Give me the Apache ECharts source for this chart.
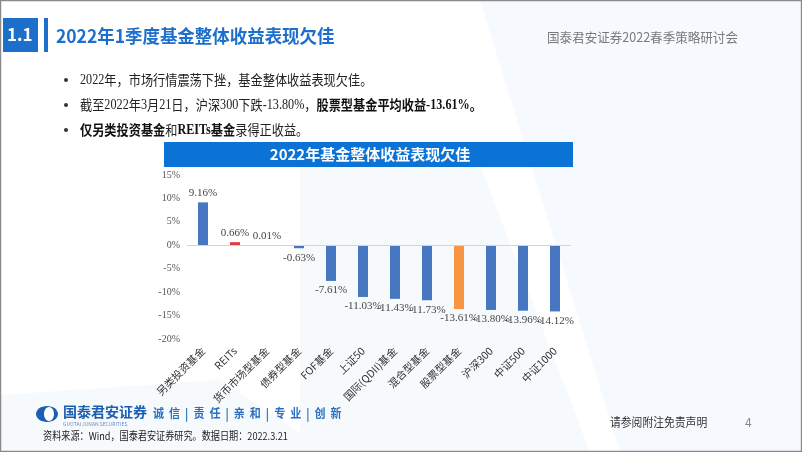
<!DOCTYPE html>
<html><head><meta charset="utf-8">
<script src="https://cdn.jsdelivr.net/npm/echarts@6/dist/echarts.min.js"></script>
<style>html,body{margin:0;padding:0;background:#fff}#c{width:802px;height:452px}</style>
</head><body><div id="c"></div>
<script>
const categories = ['另类投资基金','REITs','货币市场型基金','债券型基金','FOF基金','上证50','国际(QDII)基金','混合型基金','股票型基金','沪深300','中证500','中证1000'];
const values = [9.16, 0.66, 0.01, -0.63, -7.61, -11.03, -11.43, -11.73, -13.61, -13.80, -13.96, -14.12];
const barColors = ['#4677c0','#e5363c','#4677c0','#4677c0','#4677c0','#4677c0','#4677c0','#4677c0','#f79543','#4677c0','#4677c0','#4677c0'];
const yTicks = [-20, -15, -10, -5, 0, 5, 10, 15];

const serif = '"Liberation Serif","Times New Roman","Noto Sans CJK SC",serif';
const cjk = '"Noto Sans CJK SC","Microsoft YaHei",sans-serif';
const chart = echarts.init(document.getElementById('c'));
const blue = '#1c6fcb';

function T(x, y, text, font, fill, sx, extra) {
  return Object.assign({type: 'text', x: x, y: y, scaleX: sx || 1,
    style: Object.assign({text: text, font: font, fill: fill, verticalAlign: 'middle', align: 'left'}, extra || {})});
}
const rich = {
  s: {fontFamily: serif, fontSize: 14, fill: '#222'},
  c: {fontFamily: cjk, fontSize: 14, fill: '#222'},
  sb: {fontFamily: serif, fontSize: 14, fontWeight: 'bold', fill: '#111'},
  cb: {fontFamily: cjk, fontSize: 14, fontWeight: 'bold', fill: '#111'}
};

chart.setOption({
  animation: false,
  backgroundColor: '#ffffff',
  grid: {left: 187, right: 231, top: 175, bottom: 113},
  xAxis: {
    type: 'category', data: categories,
    axisLine: {show: false}, axisTick: {show: false},
    axisLabel: {rotate: 45, interval: 0, margin: 10, fontSize: 10.5, color: '#333', fontFamily: cjk}
  },
  yAxis: {
    type: 'value', min: yTicks[0], max: yTicks[yTicks.length-1], interval: 5,
    axisLine: {show: false}, axisTick: {show: false}, splitLine: {show: false},
    axisLabel: {formatter: v => v + '%', fontSize: 10, color: '#555', fontFamily: serif, margin: 7}
  },
  series: [{
    type: 'bar', barWidth: 10,
    data: values.map((v, i) => ({value: v, itemStyle: {color: barColors[i]},
      label: {position: v >= 0 ? 'top' : 'bottom'}})),
    label: {show: true, formatter: p => p.value.toFixed(2) + '%', fontSize: 11, color: '#444', fontFamily: serif, distance: 4},
    markLine: {silent: true, symbol: 'none', label: {show: false},
      lineStyle: {color: '#cfd6de', type: 'solid', width: 1}, data: [{yAxis: 0}]}
  }],
  graphic: [
    {type: 'polygon', z: -10, shape: {points: [[300,165],[480,165],[590,452],[300,452]]}, style: {fill: '#f7fafd'}},
    {type: 'polygon', z: -10, shape: {points: [[480,0],[800,0],[800,452],[620,452]]}, style: {fill: '#f6f9fd'}},
    {type: 'polygon', z: -10, shape: {points: [[0,395],[220,380],[330,452],[0,452]]}, style: {fill: '#f7fafd'}},
    {type: 'rect', shape: {x: 0.5, y: 0.5, width: 801, height: 451}, style: {fill: 'none', stroke: '#8a8a8a', lineWidth: 1.5}},
    {type: 'rect', shape: {x: 3, y: 18, width: 35, height: 34}, style: {fill: blue}},
    T(7, 35, '1.1', 'bold 17px ' + cjk, '#fff'),
    {type: 'rect', shape: {x: 44, y: 18, width: 4, height: 34}, style: {fill: blue}},
    T(56, 36, '2022年1季度基金整体收益表现欠佳', 'bold 18px ' + cjk, blue, 0.97),
    T(547, 37, '国泰君安证券2022春季策略研讨会', '13px ' + cjk, '#7a7a7a', 0.965),
    {type: 'circle', shape: {cx: 66, cy: 80, r: 2}, style: {fill: '#333'}},
    {type: 'circle', shape: {cx: 66, cy: 105, r: 2}, style: {fill: '#333'}},
    {type: 'circle', shape: {cx: 66, cy: 130, r: 2}, style: {fill: '#333'}},
    T(80, 80, '{s|2022}{c|年，市场行情震荡下挫，基金整体收益表现欠佳。}', '', '#222', 0.87, {rich: rich}),
    T(80, 105, '{c|截至}{s|2022}{c|年}{s|3}{c|月}{s|21}{c|日，沪深}{s|300}{c|下跌}{s|-13.80%}{c|，}{cb|股票型基金平均收益}{sb|-13.61%}{cb|。}', '', '#222', 0.87, {rich: rich}),
    T(80, 130, '{cb|仅另类投资基金}{c|和}{sb|REITs}{cb|基金}{c|录得正收益。}', '', '#222', 0.87, {rich: rich}),
    {type: 'rect', shape: {x: 164, y: 142, width: 409, height: 25}, style: {fill: '#0b72d6'}},
    T(370, 154.5, '2022年基金整体收益表现欠佳', 'bold 15px ' + cjk, '#fff', 1, {align: 'center'}),
    {type: 'ellipse', shape: {cx: 47, cy: 414, rx: 11, ry: 8}, style: {fill: '#1a5fb4'}},
    {type: 'ellipse', shape: {cx: 49, cy: 414, rx: 5, ry: 7}, style: {fill: '#fff'}},
    T(63, 412, '国泰君安证券', 'bold 14px ' + cjk, '#1a5fb4'),
    T(63, 424, 'GUOTAI JUNAN SECURITIES', '5px ' + cjk, '#6a8cc0'),
    T(153, 413, '诚  信  |  责  任  |  亲  和  |  专  业  |  创  新', 'bold 12px ' + cjk, '#2a6fc0', 0.92),
    T(43, 436, '资料来源：Wind，国泰君安证券研究。数据日期：2022.3.21', '11px ' + cjk, '#222', 0.83),
    T(610, 422, '请参阅附注免责声明', '12px ' + cjk, '#333', 0.9),
    T(745, 422, '4', '12px ' + cjk, '#888')
  ]
});
</script></body></html>
